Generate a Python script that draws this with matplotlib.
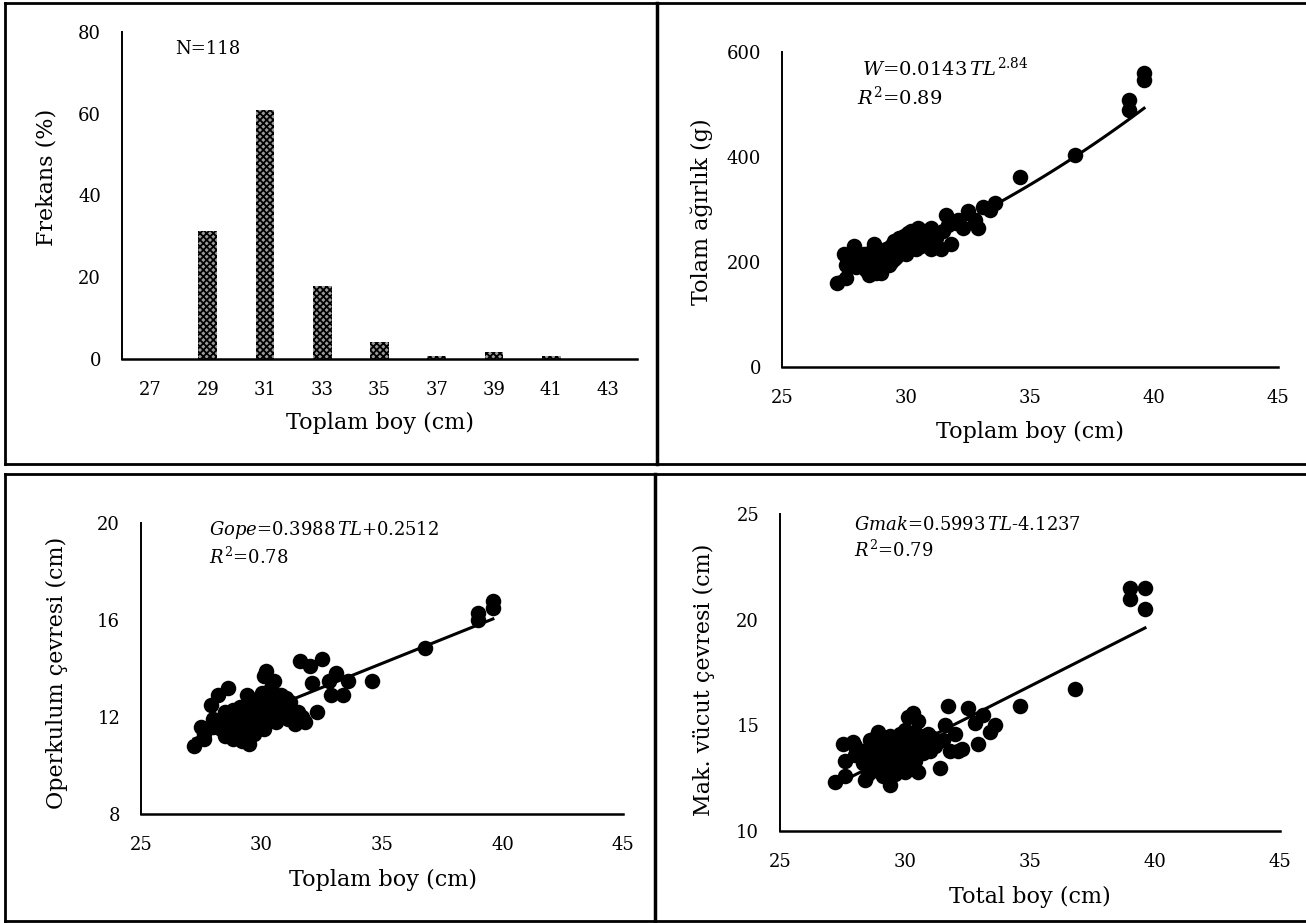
import numpy as np
import matplotlib
matplotlib.use("Agg")
import matplotlib.pyplot as plt
from matplotlib.lines import Line2D

plt.rcParams["font.family"] = ["DejaVu Serif"]
plt.rcParams["mathtext.fontset"] = "dejavuserif"
plt.rcParams["hatch.linewidth"] = 1.3

# Histogram (length-frequency)
boy_sinif = ["27", "29", "31", "33", "35", "37", "39", "41", "43"]
frekans = [0, 31.4, 61.0, 17.8, 4.2, 0.8, 1.7, 0.8, 0]

tl = [27.2, 27.5, 27.6, 27.6, 27.9, 28.0, 28.0, 28.2, 28.3, 28.4,
      28.5, 28.5, 28.6, 28.6, 28.7, 28.7, 28.8, 28.8, 28.9, 28.9,
      29.0, 29.0, 29.0, 29.1, 29.1, 29.2, 29.2, 29.3, 29.3, 29.4,
      29.4, 29.5, 29.5, 29.5, 29.6, 29.6, 29.7, 29.7, 29.8, 29.8,
      29.9, 29.9, 30.0, 30.0, 30.0, 30.1, 30.1, 30.2, 30.2, 30.3,
      30.3, 30.4, 30.4, 30.5, 30.5, 30.6, 30.6, 30.7, 30.8, 30.9,
      31.0, 31.0, 31.1, 31.2, 31.4, 31.5, 31.6, 31.7, 31.8, 32.0,
      32.1, 32.3, 32.5, 32.8, 32.9, 33.1, 33.4, 33.6, 34.6, 36.8,
      39.0, 39.0, 39.6, 39.6]
agirlik = [160, 215, 170, 195, 230, 205, 190, 200, 215, 185,
           175, 205, 220, 195, 235, 210, 180, 225, 200, 215,
           190, 205, 180, 220, 200, 210, 225, 195, 215, 200,
           230, 205, 220, 240, 210, 230, 215, 245, 225, 235,
           220, 250, 230, 215, 245, 255, 225, 240, 260, 235,
           250, 225, 245, 265, 240, 255, 230, 250, 260, 240,
           265, 225, 255, 245, 225, 260, 290, 270, 235, 275,
           280, 265, 298, 280, 264, 305, 300, 312, 362, 404,
           490, 508, 547, 560]
g_ope = [10.8, 11.6, 11.1, 11.3, 12.5, 11.6, 11.9, 12.9, 11.5, 11.8,
         11.2, 12.2, 11.9, 13.2, 12.0, 11.4, 11.1, 12.3, 11.7, 12.1,
         11.5, 12.0, 11.3, 12.4, 11.8, 11.0, 12.2, 11.6, 11.2, 12.9,
         11.9, 10.9, 12.6, 11.4, 12.0, 11.7, 12.4, 11.3, 12.1, 11.6,
         12.8, 12.2, 11.8, 12.5, 13.0, 13.7, 11.5, 13.9, 12.3, 12.9,
         11.9, 12.6, 13.2, 13.5, 12.0, 12.7, 11.8, 12.4, 12.9, 12.2,
         12.8, 12.5, 11.9, 12.6, 11.7, 12.2, 14.3, 12.0, 11.8, 14.1,
         13.4, 12.2, 14.4, 13.5, 12.9, 13.8, 12.9, 13.5, 13.5, 14.85,
         16.0, 16.3, 16.5, 16.8]
g_mak = [12.3, 14.1, 12.6, 13.3, 14.2, 14.0, 13.6, 13.8, 13.2, 12.4,
         12.7, 13.9, 14.3, 13.5, 14.1, 12.9, 13.0, 14.4, 14.7, 13.6,
         13.2, 12.8, 14.0, 13.7, 12.6, 14.2, 13.4, 13.9, 12.9, 12.2,
         14.5, 13.1, 13.8, 14.3, 12.7, 13.5, 14.0, 13.3, 14.6, 12.9,
         13.7, 14.2, 13.4, 14.8, 12.8, 15.4, 13.9, 14.4, 13.6, 15.6,
         14.1, 13.3, 14.7, 15.2, 12.8, 14.0, 14.5, 13.7, 14.3, 14.6,
         14.1, 13.8, 14.4, 14.0, 13.0, 14.3, 15.0, 15.9, 13.8, 14.6,
         13.8, 13.9, 15.8, 15.1, 14.1, 15.5, 14.7, 15.0, 15.9, 16.7,
         21.0, 21.5, 20.5, 21.5]

W_PX, H_PX = 1306, 923
fig = plt.figure(figsize=(W_PX / 100, H_PX / 100), dpi=100)


def eksen(x0, y0, x1, y1):
    # pixel box (left, top, right, bottom) -> axes
    ax = fig.add_axes([x0 / W_PX, 1 - y1 / H_PX, (x1 - x0) / W_PX, (y1 - y0) / H_PX])
    for s in ("top", "right"):
        ax.spines[s].set_visible(False)
    ax.spines["left"].set_linewidth(1.4)
    ax.spines["bottom"].set_linewidth(1.8)
    ax.tick_params(length=0, labelsize=13)
    ax.tick_params(axis="y", pad=15)
    ax.tick_params(axis="x", pad=16)
    return ax


def yazi(x, y, s, **kw):
    fig.text(x / W_PX, 1 - y / H_PX, s, ha="center", va="center", fontsize=16, **kw)


def cizgi(xs, ys, lw=2.0):
    fig.add_artist(Line2D([x / W_PX for x in xs], [1 - y / H_PX for y in ys],
                          color="black", lw=lw))


# frame of the table
cizgi([5, 1306], [3, 3])
cizgi([5, 1306], [464, 464])
cizgi([5, 5], [3, 464])
cizgi([657, 657], [3, 464], lw=2.5)
cizgi([5, 1306], [474, 474])
cizgi([5, 1306], [921, 921])
cizgi([5, 5], [474, 921])
cizgi([655, 655], [474, 921], lw=2.5)

# 1) length frequency
ax1 = eksen(122, 32, 637, 359)
xpos = np.arange(len(boy_sinif))
ax1.bar(xpos, frekans, width=0.33, facecolor="#9a9a9a", edgecolor="black",
        hatch="xxxxx", linewidth=0)
ax1.set_xticks(xpos)
ax1.set_xticklabels(boy_sinif)
ax1.set_xlim(-0.5, len(boy_sinif) - 0.5)
ax1.set_ylim(0, 80)
ax1.set_yticks([0, 20, 40, 60, 80])
ax1.text(0.103, 0.948, "N=118", transform=ax1.transAxes, fontsize=13, va="center")
yazi(380, 423, "Toplam boy (cm)")
yazi(46, 177, "Frekans (%)", rotation=90)

tl_arr = np.array(tl)
tl_fit = np.linspace(tl_arr.min(), tl_arr.max(), 100)
nokta = 125

# 2) length-weight
ax2 = eksen(782, 52, 1278, 367)
ax2.scatter(tl, agirlik, s=nokta, color="black", zorder=3, linewidths=0)
ax2.plot(tl_fit, 0.0143 * tl_fit ** 2.84, color="black", lw=2.2)
ax2.set_xlim(25, 45)
ax2.set_ylim(0, 600)
ax2.set_xticks([25, 30, 35, 40, 45])
ax2.set_yticks([0, 200, 400, 600])
ax2.text(0.161, 0.95, r"$W$=0.0143$\,TL^{2.84}$", transform=ax2.transAxes,
         fontsize=14, va="center")
ax2.text(0.151, 0.857, r"$R^2$=0.89", transform=ax2.transAxes, fontsize=14, va="center")
yazi(1030, 432, "Toplam boy (cm)")
yazi(702, 212, "Tolam ağırlık (g)", rotation=90)

# 3) operculum girth
ax3 = eksen(141, 523, 623, 814)
ax3.scatter(tl, g_ope, s=nokta, color="black", zorder=3, linewidths=0)
ax3.plot(tl_fit, 0.3988 * tl_fit + 0.2512, color="black", lw=2.2)
ax3.set_xlim(25, 45)
ax3.set_ylim(8, 20)
ax3.set_xticks([25, 30, 35, 40, 45])
ax3.set_yticks([8, 12, 16, 20])
ax3.text(0.141, 0.976, r"$Gope$=0.3988$\,TL$+0.2512", transform=ax3.transAxes,
         fontsize=13, va="center")
ax3.text(0.141, 0.883, r"$R^2$=0.78", transform=ax3.transAxes, fontsize=13, va="center")
yazi(383, 880, "Toplam boy (cm)")
yazi(57, 673, "Operkulum çevresi (cm)", rotation=90)

# 4) max body girth
ax4 = eksen(780, 514, 1280, 831)
ax4.scatter(tl, g_mak, s=nokta, color="black", zorder=3, linewidths=0)
ax4.plot(tl_fit, 0.5993 * tl_fit - 4.1237, color="black", lw=2.2)
ax4.set_xlim(25, 45)
ax4.set_ylim(10, 25)
ax4.set_xticks([25, 30, 35, 40, 45])
ax4.set_yticks([10, 15, 20, 25])
ax4.text(0.148, 0.965, r"$Gmak$=0.5993$\,TL$-4.1237", transform=ax4.transAxes,
         fontsize=13, va="center")
ax4.text(0.148, 0.886, r"$R^2$=0.79", transform=ax4.transAxes, fontsize=13, va="center")
yazi(1030, 897, "Total boy (cm)")
yazi(704, 680, "Mak. vücut çevresi (cm)", rotation=90)

fig.savefig("out.png", dpi=100)
